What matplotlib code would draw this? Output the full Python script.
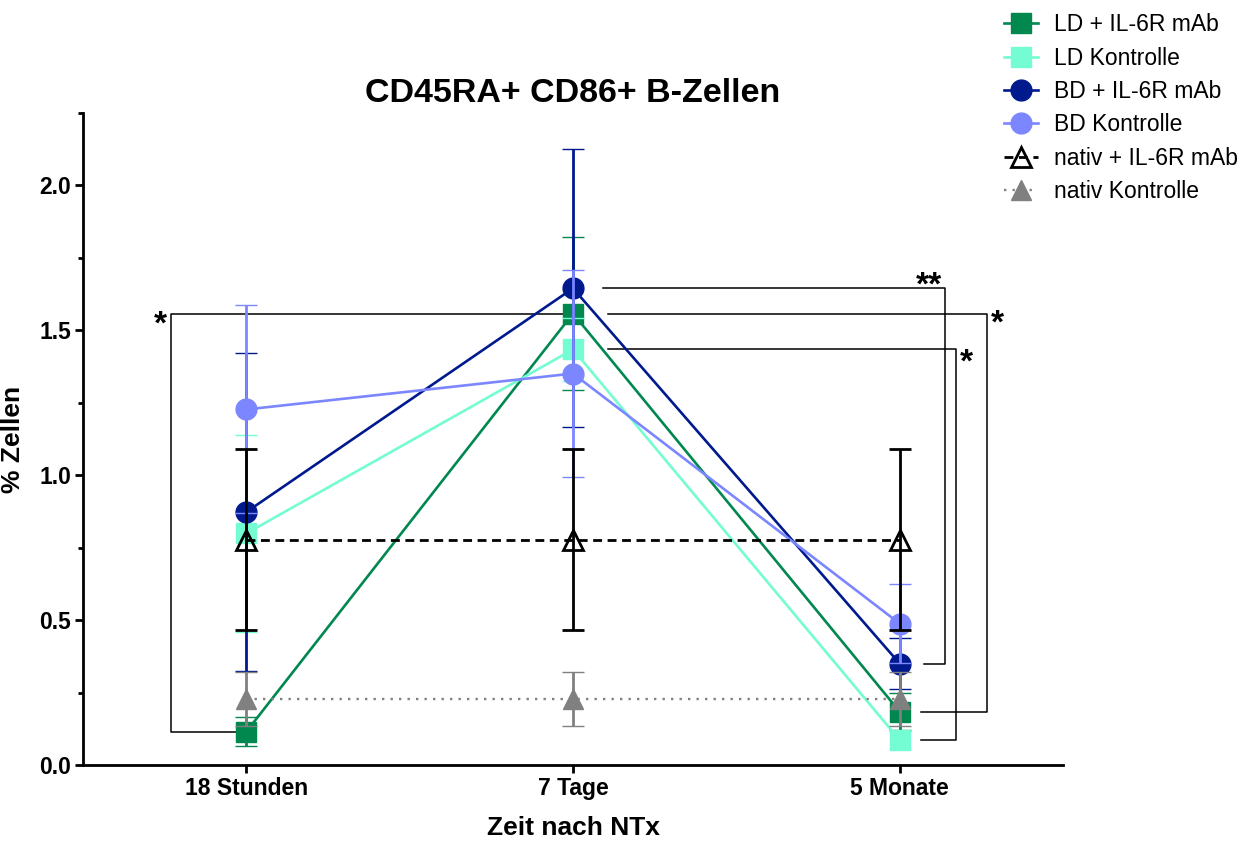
#!/usr/bin/env python3

import numpy as np
import matplotlib
matplotlib.use("Agg")
import matplotlib.pyplot as plt
from matplotlib.ticker import MultipleLocator, FormatStrFormatter

# ─── STYLE ────────────────────────────────────────────────────────────────
plt.rcParams.update({
    "font.family":      ["Liberation Sans", "DejaVu Sans"],
    "font.size":        16,
    "axes.linewidth":   2.0,
    "xtick.major.width": 2.0,
    "ytick.major.width": 2.0,
    "ytick.minor.width": 2.0,
    "xtick.major.size": 6,
    "ytick.major.size": 6,
    "ytick.minor.size": 3.5,
})

# ─── DATA (mean, error) ──────────────────────────────────────────────────
groups = ["18 Stunden", "7 Tage", "5 Monate"]

ld_il6r       = [0.115, 1.558, 0.184]
ld_il6r_err   = [0.050, 0.264, 0.063]
ld_ctrl       = [0.799, 1.434, 0.086]
ld_ctrl_err   = [0.340, 0.110, 0.030]
bd_il6r       = [0.873, 1.645, 0.350]
bd_il6r_err   = [0.550, 0.480, 0.087]
bd_ctrl       = [1.227, 1.351, 0.488]
bd_ctrl_err   = [0.359, 0.357, 0.135]
nativ_il6r     = [0.778, 0.778, 0.778]
nativ_il6r_err = [0.313, 0.313, 0.313]
nativ_ctrl     = [0.228, 0.228, 0.228]
nativ_ctrl_err = [0.093, 0.093, 0.093]

series = [
    ("LD + IL-6R mAb",    ld_il6r,    ld_il6r_err,    "#00884F", "s", "-",  None),
    ("LD Kontrolle",      ld_ctrl,    ld_ctrl_err,    "#74FDD2", "s", "-",  None),
    ("BD + IL-6R mAb",    bd_il6r,    bd_il6r_err,    "#001A8E", "o", "-",  None),
    ("BD Kontrolle",      bd_ctrl,    bd_ctrl_err,    "#7C86FF", "o", "-",  None),
    ("nativ + IL-6R mAb", nativ_il6r, nativ_il6r_err, "#000000", "^", (0, (3.2, 2.0)), "none"),
    ("nativ Kontrolle",   nativ_ctrl, nativ_ctrl_err, "#808080", "^", (0, (1, 2.6)), None),
]

# significance brackets: (series values, group a, group b, label)
sig_pairs = [
    (ld_il6r, 0, 1, "*"),
    (bd_il6r, 1, 2, "**"),
    (ld_il6r, 1, 2, "*"),
    (ld_ctrl, 1, 2, "*"),
]
# layout of the brackets: x of vertical bar, star offset (dx, dy), alignment
sig_layout = [
    (-0.23,  -0.014, -0.068, "right"),
    (2.138,  -0.008, -0.020, "right"),
    (2.266,   0.012, -0.066, "left"),
    (2.172,   0.012, -0.076, "left"),
]

# ─── PLOTTING ─────────────────────────────────────────────────────────────
fig = plt.figure(figsize=(12.5, 8.41), dpi=100)
ax = fig.add_axes([83 / 1250, 76 / 841, 980 / 1250, 652 / 841])

x = np.arange(len(groups))
handles = []
for i, (label, vals, err, col, mk, ls, mfc) in enumerate(series):
    if ls == "-":
        lw = 1.9
    elif mfc:
        lw = 2.0
    else:
        lw = 1.7
    ms = 15 if mk != "^" else 14
    cont = ax.errorbar(x, vals, yerr=err, color=col, ecolor=col,
                       marker=mk, markersize=ms, linestyle=ls, linewidth=lw,
                       markerfacecolor=(mfc if mfc else col),
                       markeredgecolor=col, markeredgewidth=(2.0 if mfc else 1.0),
                       elinewidth=2.0, capsize=8, capthick=2.0,
                       zorder=3 + i, clip_on=False)
    cont[0].set_label(label)
    handles.append(cont[0])

# brackets
for (vals, a, b, txt), (xv, dx, dy, ha) in zip(sig_pairs, sig_layout):
    ya, yb = vals[a], vals[b]
    if xv < a:
        # bracket on the left side, star at the upper end
        xs = [a - 0.028, xv, xv, b - 0.023]
        ystar = yb
    else:
        xa_start = a + (0.092 if txt == "**" else 0.106)
        xb_start = b + (0.074 if txt == "**" else 0.064)
        xs = [xa_start, xv, xv, xb_start]
        ystar = ya
    ax.plot(xs, [ya, ya, yb, yb], color="black", lw=1.1, zorder=2)
    ax.text(xv + dx, ystar + dy, txt, ha=ha, va="baseline",
            fontsize=24, fontweight="bold")

# axes
ax.set_xlim(-0.5, 2.5)
ax.set_ylim(0, 2.25)
ax.set_xticks(x)
ax.set_xticklabels(groups, fontweight="bold", fontsize=16.5)
ax.yaxis.set_major_locator(MultipleLocator(0.5))
ax.yaxis.set_minor_locator(MultipleLocator(0.25))
ax.yaxis.set_major_formatter(FormatStrFormatter("%.1f"))
for lab in ax.get_yticklabels():
    lab.set_fontweight("bold")
    lab.set_fontsize(16.5)
ax.tick_params(axis="both", direction="out", pad=2.5)
ax.spines["top"].set_visible(False)
ax.spines["right"].set_visible(False)

ax.set_xlabel("Zeit nach NTx", fontsize=19, fontweight="bold", labelpad=12)
ax.set_ylabel("% Zellen", fontsize=19, fontweight="bold", labelpad=10)
ax.set_title("CD45RA+ CD86+ B-Zellen", fontsize=24.5, fontweight="bold", pad=8)

# legend
fig.legend(handles=handles, loc="upper left", bbox_to_anchor=(0.803, 0.984),
           frameon=False, fontsize=16.5, handlelength=1.5, handletextpad=0.7,
           labelspacing=0.45, borderpad=0, borderaxespad=0, markerscale=1.0)

fig.savefig("out.png", dpi=100)
